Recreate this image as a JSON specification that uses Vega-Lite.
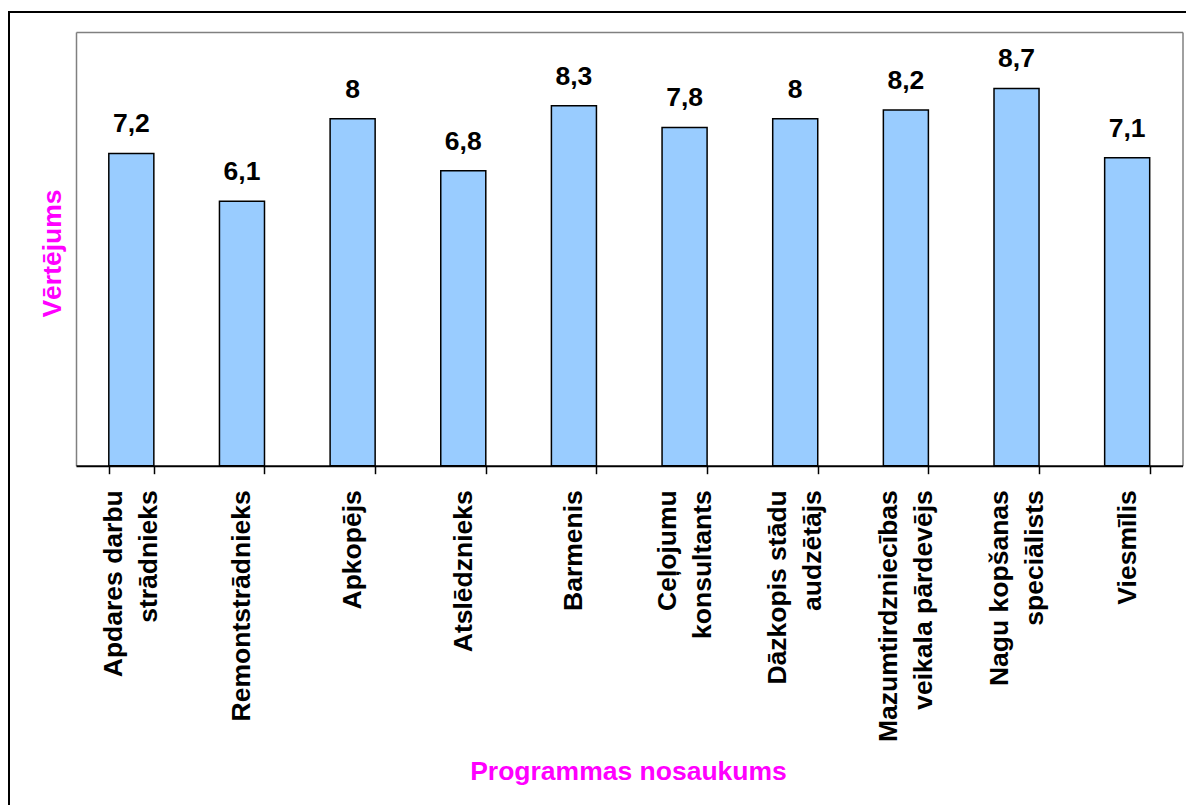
{
  "$schema": "https://vega.github.io/schema/vega-lite/v6.json",
  "width": 1182,
  "height": 798,
  "autosize": {"type": "none"},
  "padding": {"left": 9, "top": 12, "right": 0, "bottom": 0},
  "background": "white",
  "config": {
    "view": {"stroke": "black", "strokeWidth": 2},
    "font": "Liberation Sans",
    "locale": {"number": {"decimal": ",", "thousands": " ", "grouping": [3], "currency": ["", " €"]}}
  },
  "data": {
    "values": [
      {"programma": "Apdares darbu\nstrādnieks", "vertejums": 7.2},
      {"programma": "Remontstrādnieks", "vertejums": 6.1},
      {"programma": "Apkopējs", "vertejums": 8},
      {"programma": "Atslēdznieks", "vertejums": 6.8},
      {"programma": "Barmenis", "vertejums": 8.3},
      {"programma": "Ceļojumu\nkonsultants", "vertejums": 7.8},
      {"programma": "Dāzkopis stādu\naudzētājs", "vertejums": 8},
      {"programma": "Mazumtirdzniecības\nveikala pārdevējs", "vertejums": 8.2},
      {"programma": "Nagu kopšanas\nspeciālists", "vertejums": 8.7},
      {"programma": "Viesmīlis", "vertejums": 7.1}
    ]
  },
  "layer": [
    {
      "mark": {"type": "bar", "fill": "#99CCFF", "stroke": "black", "strokeWidth": 1.5},
      "encoding": {
        "x": {
          "field": "programma", "type": "nominal", "sort": null,
          "scale": {"range": [67, 1173.5], "paddingInner": 0.593, "paddingOuter": 0.2965},
          "axis": {
            "orient": "bottom", "offset": -344.3,
            "domainColor": "black", "domainWidth": 2,
            "ticks": true, "tickColor": "black", "tickWidth": 1.5, "tickSize": 8, "tickBand": "extent",
            "labelAngle": -90, "labelAlign": "right", "labelBaseline": "middle",
            "labelFont": "Liberation Sans", "labelFontSize": 26.5, "labelFontWeight": "bold", "labelColor": "black",
            "labelPadding": 16, "labelLineHeight": 35, "labelLimit": 0, "labelOverlap": false,
            "labelOffset": {"condition": {"test": "indexof(['Remontstrādnieks', 'Apkopējs', 'Atslēdznieks', 'Barmenis', 'Viesmīlis'], datum.value) < 0", "value": -17.5}, "value": 0},
            "labelExpr": "split(datum.label, '\\n')",
            "encoding": {
              "labels": {
                "align": {"signal": "indexof(['Remontstrādnieks', 'Apkopējs', 'Atslēdznieks', 'Barmenis', 'Viesmīlis'], datum.value) < 0 ? 'center' : 'right'"},
                "dx": {"signal": "indexof(datum.value, 'Apdares') >= 0 ? -93.5 : indexof(datum.value, 'Ceļojumu') >= 0 ? -74.4 : indexof(datum.value, 'Dāzkopis') >= 0 ? -97.2 : indexof(datum.value, 'Mazumtirdzniecības') >= 0 ? -125.9 : indexof(datum.value, 'Nagu') >= 0 ? -98 : 0"}
              }
            },
            "grid": false,
            "title": "Programmas nosaukums",
            "titleFont": "Liberation Sans", "titleFontSize": 26.5, "titleFontWeight": "bold", "titleColor": "#FF00FF",
            "titleX": 619, "titleY": 306, "titleBaseline": "middle", "titleAlign": "center",
            "zindex": 2
          }
        },
        "y": {
          "field": "vertejums", "type": "quantitative",
          "scale": {"domain": [0, 10], "range": [453.7, 20], "nice": false, "zero": true},
          "axis": {
            "orient": "left", "offset": -67,
            "domainColor": "#808080", "domainWidth": 1.5,
            "ticks": false, "labels": false, "grid": false,
            "title": "Vērtējums",
            "titleFont": "Liberation Sans", "titleFontSize": 26.5, "titleFontWeight": "bold", "titleColor": "#FF00FF",
            "titleAngle": -90, "titleX": -24, "titleY": 241, "titleBaseline": "middle", "titleAlign": "center",
            "zindex": 1
          }
        }
      }
    },
    {
      "mark": {"type": "text", "dy": -21, "baseline": "alphabetic", "align": "center", "font": "Liberation Sans", "fontSize": 26.5, "fontWeight": "bold", "color": "black"},
      "encoding": {
        "x": {
          "field": "programma", "type": "nominal", "sort": null,
          "axis": {"orient": "top", "offset": -20, "domainColor": "#808080", "domainWidth": 1.5, "ticks": false, "labels": false, "grid": false, "title": null, "zindex": 1}
        },
        "y": {
          "field": "vertejums", "type": "quantitative",
          "axis": {"orient": "right", "offset": -8.5, "domainColor": "#808080", "domainWidth": 1.5, "ticks": false, "labels": false, "grid": false, "title": null, "zindex": 1}
        },
        "text": {"field": "vertejums", "type": "quantitative", "format": ".1~f"}
      }
    }
  ],
  "resolve": {"axis": {"x": "independent", "y": "independent"}}
}
